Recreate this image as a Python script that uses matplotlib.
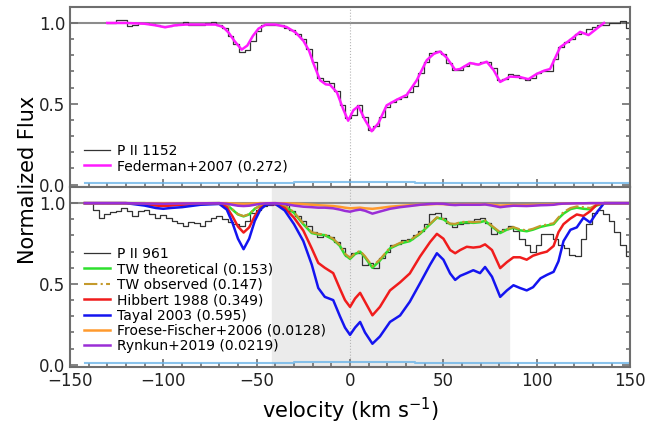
import numpy as np
import matplotlib.pyplot as plt
from matplotlib.ticker import MultipleLocator

# --- top panel: P II 1152 spectrum (3 km/s bins) ---
VEL_1152 = np.arange(-130, 150, 3)
FLUX_1152 = [
    1.0, 1.0, 1.02, 1.02, 0.98, 0.99, 1.0, 1.0, 0.995, 0.985,
    0.98, 0.98, 0.99, 0.995, 1.005, 0.99, 0.99, 0.99, 1.0, 1.005,
    0.985, 0.97, 0.92, 0.87, 0.82, 0.83, 0.89, 0.95, 0.985, 0.99,
    0.99, 0.985, 0.97, 0.955, 0.93, 0.9, 0.84, 0.76, 0.66, 0.64,
    0.63, 0.58, 0.49, 0.41, 0.43, 0.49, 0.42, 0.34, 0.36, 0.42,
    0.48, 0.51, 0.53, 0.54, 0.57, 0.61, 0.69, 0.76, 0.815, 0.825,
    0.81, 0.75, 0.71, 0.71, 0.735, 0.75, 0.745, 0.76, 0.76, 0.72,
    0.645, 0.655, 0.685, 0.68, 0.66, 0.645, 0.66, 0.69, 0.7, 0.7,
    0.78, 0.85, 0.88, 0.9, 0.93, 0.94, 0.96, 0.975, 0.985, 0.99,
    1.0, 1.0, 1.015, 0.97,
]

# Federman+2007 model
VEL_FED = [
    -130, -120, -110, -104, -99, -94, -88, -80, -72, -68,
    -65, -62, -58, -55, -52, -49, -45, -40, -34, -29,
    -25, -22, -19.6, -16, -13, -10.7, -7, -3.6, -1, 1.8,
    4.5, 8, 11.6, 15.2, 19.6, 25, 30.4, 35.7, 41.1, 45,
    48.2, 51.8, 56.3, 58.9, 64.3, 68.7, 73.2, 76.8, 80.4, 85.7,
    91.1, 95.5, 100, 104, 107.1, 112.5, 117.9, 123.2, 127.7, 132.1,
    136,
]
FLUX_FED = [
    1.0, 1.0, 0.995, 0.985, 0.973, 0.985, 0.99, 0.99, 0.99, 0.975,
    0.94, 0.89, 0.835, 0.86, 0.92, 0.965, 0.99, 0.99, 0.975, 0.94,
    0.89, 0.83, 0.75, 0.645, 0.62, 0.617, 0.57, 0.465, 0.395, 0.46,
    0.485, 0.40, 0.33, 0.38, 0.49, 0.525, 0.555, 0.645, 0.77, 0.81,
    0.823, 0.785, 0.71, 0.715, 0.752, 0.742, 0.76, 0.71, 0.635, 0.668,
    0.665, 0.652, 0.685, 0.705, 0.715, 0.85, 0.895, 0.945, 0.925, 0.965,
    1.0,
]

# --- bottom panel: P II 961 spectrum (3 km/s bins) ---
VEL_961 = np.arange(-142, 150, 3)
FLUX_961 = [
    1.0, 1.0, 0.96, 0.91, 0.93, 0.945, 0.95, 0.97, 0.95, 0.92,
    0.95, 0.955, 0.93, 0.91, 0.925, 0.91, 0.89, 0.88, 0.86, 0.885,
    0.875, 0.86, 0.89, 0.905, 0.92, 0.9, 0.885, 0.87, 0.86, 0.89,
    0.94, 0.96, 0.985, 0.99, 0.995, 0.995, 0.99, 0.95, 0.92, 0.89,
    0.86, 0.82, 0.79, 0.80, 0.79, 0.76, 0.72, 0.67, 0.69, 0.69,
    0.62, 0.63, 0.60, 0.66, 0.70, 0.74, 0.75, 0.77, 0.78, 0.80,
    0.83, 0.87, 0.93, 0.94, 0.91, 0.88, 0.85, 0.87, 0.875, 0.89,
    0.9, 0.91, 0.88, 0.81, 0.825, 0.84, 0.86, 0.83, 0.78, 0.74,
    0.70, 0.74, 0.81, 0.81, 0.78, 0.74, 0.72, 0.68, 0.67, 0.78,
    0.87, 0.94, 0.96, 0.93, 0.89, 0.82, 0.74, 0.67,
]

# model profiles for P II 961, all on one velocity grid
VEL_MODEL = [
    -142, -120, -110, -104, -100, -96, -90, -80, -70, -66,
    -63, -60, -57, -54, -51, -48, -45, -40, -35, -30,
    -25, -20.5, -17, -13.5, -9, -5.4, -2.7, 0, 2.7, 5.4,
    8, 12, 16, 21.4, 26.8, 32, 37.5, 42.9, 46.5, 50,
    53.6, 56.3, 59, 62.5, 66, 69.6, 72.3, 76, 80.4, 84,
    87.5, 91, 94.6, 98, 102, 105.4, 109, 111.6, 114.3, 118,
    121.4, 125, 128.6, 132, 136, 150,
]
TW_THEO = [
    1.0, 1.0, 1.0, 0.995, 0.993, 0.995, 0.997, 0.999, 1.0, 0.99,
    0.96, 0.93, 0.918, 0.93, 0.965, 0.985, 0.995, 0.997, 0.983, 0.94,
    0.87, 0.815, 0.806, 0.802, 0.775, 0.735, 0.68, 0.655, 0.685, 0.70,
    0.665, 0.60, 0.645, 0.72, 0.75, 0.765, 0.81, 0.87, 0.91, 0.90,
    0.87, 0.868, 0.878, 0.882, 0.878, 0.882, 0.89, 0.855, 0.815, 0.836,
    0.848, 0.832, 0.826, 0.836, 0.853, 0.862, 0.87, 0.905, 0.935, 0.963,
    0.972, 0.965, 0.962, 0.985, 1.0, 1.0,
]
TW_OBS = [
    1.0, 1.0, 1.0, 0.996, 0.994, 0.996, 0.998, 1.0, 1.0, 0.99,
    0.962, 0.932, 0.92, 0.932, 0.966, 0.986, 0.996, 0.998, 0.985, 0.945,
    0.875, 0.82, 0.81, 0.806, 0.78, 0.74, 0.688, 0.662, 0.69, 0.705,
    0.672, 0.61, 0.652, 0.725, 0.755, 0.77, 0.815, 0.873, 0.912, 0.902,
    0.873, 0.872, 0.882, 0.886, 0.882, 0.886, 0.893, 0.86, 0.82, 0.84,
    0.852, 0.838, 0.832, 0.842, 0.86, 0.868, 0.876, 0.912, 0.945, 0.97,
    0.98, 0.975, 0.97, 0.99, 1.0, 1.0,
]
HIBBERT = [
    1.0, 1.0, 0.995, 0.985, 0.982, 0.985, 0.99, 0.995, 0.998, 0.975,
    0.92, 0.855, 0.818, 0.85, 0.92, 0.97, 0.99, 0.993, 0.97, 0.91,
    0.83, 0.72, 0.63, 0.60, 0.567, 0.47, 0.40, 0.358, 0.41, 0.445,
    0.39, 0.306, 0.358, 0.46, 0.51, 0.565, 0.67, 0.76, 0.81, 0.78,
    0.71, 0.69, 0.71, 0.73, 0.725, 0.73, 0.745, 0.71, 0.598, 0.635,
    0.665, 0.665, 0.65, 0.675, 0.69, 0.70, 0.735, 0.82, 0.87, 0.905,
    0.93, 0.921, 0.95, 0.99, 1.0, 1.0,
]
TAYAL = [
    1.0, 1.0, 0.985, 0.97, 0.965, 0.97, 0.975, 0.99, 0.995, 0.96,
    0.88, 0.78, 0.715, 0.78, 0.89, 0.96, 0.99, 0.995, 0.955, 0.87,
    0.765, 0.62, 0.475, 0.42, 0.40, 0.30, 0.23, 0.185, 0.23, 0.265,
    0.20, 0.13, 0.175, 0.265, 0.305, 0.39, 0.505, 0.62, 0.69, 0.65,
    0.565, 0.525, 0.55, 0.567, 0.585, 0.567, 0.605, 0.545, 0.42, 0.46,
    0.492, 0.475, 0.46, 0.48, 0.535, 0.556, 0.575, 0.64, 0.765, 0.835,
    0.85, 0.91, 0.88, 0.94, 1.0, 1.0,
]
FROESE = [
    1.0, 1.0, 1.0, 1.0, 1.0, 1.0, 1.0, 1.0, 1.0, 1.0,
    0.998, 0.996, 0.995, 0.996, 0.998, 1.0, 1.0, 1.0, 0.999, 0.997,
    0.994, 0.99, 0.987, 0.985, 0.982, 0.977, 0.972, 0.968, 0.97, 0.972,
    0.968, 0.965, 0.97, 0.978, 0.983, 0.987, 0.99, 0.993, 0.995, 0.994,
    0.99, 0.99, 0.991, 0.992, 0.992, 0.992, 0.993, 0.99, 0.985, 0.987,
    0.988, 0.988, 0.988, 0.989, 0.99, 0.991, 0.993, 0.995, 0.997, 0.998,
    0.999, 0.999, 1.0, 1.0, 1.0, 1.0,
]
RYNKUN = [
    1.0, 1.0, 0.998, 0.997, 0.996, 0.997, 0.998, 0.999, 1.0, 0.996,
    0.99, 0.984, 0.982, 0.984, 0.99, 0.996, 0.999, 1.0, 0.995, 0.985,
    0.978, 0.975, 0.972, 0.972, 0.968, 0.96, 0.952, 0.947, 0.955, 0.96,
    0.953, 0.935, 0.948, 0.965, 0.975, 0.982, 0.99, 0.995, 0.997, 0.996,
    0.99, 0.988, 0.99, 0.99, 0.99, 0.99, 0.992, 0.985, 0.975, 0.98,
    0.984, 0.983, 0.982, 0.984, 0.987, 0.988, 0.99, 0.995, 0.997, 0.998,
    0.999, 0.999, 1.0, 1.0, 1.0, 1.0,
]

# flux errors (light blue, near zero)
VEL_ERR = [-142, -100, -50, -10, 0, 10, 20, 50, 100, 150]
ERR_1152 = [0.012, 0.012, 0.012, 0.013, 0.015, 0.016, 0.014, 0.012, 0.012, 0.012]
ERR_961 = [0.012, 0.012, 0.012, 0.015, 0.02, 0.018, 0.014, 0.012, 0.012, 0.012]

FIT_WINDOW = (-42, 85)

FRAME = '#6e6e6e'
TICK_SIZE = 12
LABEL_SIZE = 15


def style_axis(ax):
    ax.set_xlim(-150, 150)
    ax.set_ylim(-0.015, 1.1)
    ax.xaxis.set_major_locator(MultipleLocator(50))
    ax.xaxis.set_minor_locator(MultipleLocator(10))
    ax.yaxis.set_major_locator(MultipleLocator(0.5))
    ax.yaxis.set_minor_locator(MultipleLocator(0.1))
    ax.tick_params(which='both', direction='in', top=False, right=True,
                   colors=FRAME, labelcolor='#222222', labelsize=TICK_SIZE, width=1.2)
    ax.tick_params(which='major', length=6)
    ax.tick_params(which='minor', length=3)
    for s in ax.spines.values():
        s.set_color(FRAME)
        s.set_linewidth(1.5)
    ax.axhline(1.0, color='#8c8c8c', lw=1.5, zorder=1)
    ax.axvline(0, color='#b5b5b5', lw=0.8, ls=':', zorder=1)


fig = plt.figure(figsize=(6.47, 4.24), dpi=100)
ax1 = fig.add_axes([0.108, 0.559, 0.866, 0.425])
ax2 = fig.add_axes([0.108, 0.134, 0.866, 0.425], sharex=ax1)

# top panel
style_axis(ax1)
ax1.step(VEL_ERR, ERR_1152, where='mid', color='#6cb4e8', lw=1.5, alpha=0.8)
ax1.step(VEL_1152, FLUX_1152, where='mid', color='#333333', lw=0.9, label='P II 1152')
ax1.plot(VEL_FED, FLUX_FED, color='#ff1aff', lw=1.8, label='Federman+2007 (0.272)')
ax1.tick_params(labelbottom=False)
ax1.legend(loc='lower left', frameon=False, fontsize=10, handlelength=1.9,
           handletextpad=0.5, labelspacing=0.1, borderaxespad=0.6)

# bottom panel
style_axis(ax2)
ax2.axvspan(*FIT_WINDOW, color='#ebebeb', zorder=0)
ax2.step(VEL_ERR, ERR_961, where='mid', color='#6cb4e8', lw=1.5, alpha=0.8)
ax2.step(VEL_961, FLUX_961, where='mid', color='#333333', lw=0.9, label='P II 961')
ax2.plot(VEL_MODEL, TW_THEO, color='#2ee02e', lw=1.8, label='TW theoretical (0.153)')
ax2.plot(VEL_MODEL, TW_OBS, color='#c49a2c', lw=1.5, ls='-.', label='TW observed (0.147)')
ax2.plot(VEL_MODEL, HIBBERT, color='#f01c1c', lw=1.8, label='Hibbert 1988 (0.349)')
ax2.plot(VEL_MODEL, TAYAL, color='#1414f0', lw=1.8, label='Tayal 2003 (0.595)')
ax2.plot(VEL_MODEL, FROESE, color='#ff9a2e', lw=1.8, label='Froese-Fischer+2006 (0.0128)')
ax2.plot(VEL_MODEL, RYNKUN, color='#9a2ed6', lw=1.8, label='Rynkun+2019 (0.0219)')
ax2.legend(loc='lower left', frameon=False, fontsize=10, handlelength=1.9,
           handletextpad=0.5, labelspacing=0.1, borderaxespad=0.6)
ax2.set_xlabel('velocity (km s$^{-1}$)', fontsize=LABEL_SIZE, labelpad=4)

fig.text(0.043, 0.575, 'Normalized Flux', rotation=90, fontsize=LABEL_SIZE,
         ha='center', va='center')

fig.savefig('out.png', dpi=100)
